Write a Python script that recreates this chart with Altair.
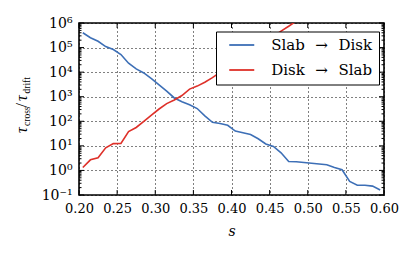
import altair as alt
import pandas as pd

# ---- data ----
s_values = [0.205, 0.215, 0.225, 0.235, 0.245, 0.255, 0.265, 0.275, 0.285, 0.295,
            0.305, 0.315, 0.325, 0.335, 0.345, 0.355, 0.365, 0.375, 0.385, 0.395,
            0.405, 0.415, 0.425, 0.435, 0.445, 0.455, 0.465, 0.475, 0.485, 0.495,
            0.505, 0.515, 0.525, 0.535, 0.545, 0.555, 0.565, 0.575, 0.585, 0.595]

slab_to_disk = [4.0e5, 2.5e5, 1.8e5, 1.1e5, 8.3e4, 5.2e4, 2.3e4, 1.35e4, 9.3e3, 5.4e3,
                3.0e3, 1.7e3, 890, 630, 470, 330, 166, 91, 81, 69,
                40, 34, 29, 19.5, 12, 9.5, 5.2, 2.3, 2.24, 2.1,
                1.95, 1.82, 1.7, 1.32, 1.07, 0.355, 0.25, 0.25, 0.23, 0.16]

disk_to_slab = [1.32, 2.7, 3.3, 8.3, 12.3, 12.6, 38, 56, 100, 178,
                316, 525, 740, 1120, 2040, 2700, 3900, 6000, 9800, 1.6e4,
                2.6e4, 4.2e4, 6.8e4, 1.1e5, 1.8e5, 2.9e5, 4.7e5, 7.4e5, 1.2e6, 2.0e6]

series_names = ["Slab\u2002\u2009\u2192\u2002\u2009Disk", "Disk\u2002\u2009\u2192\u2002\u2009Slab"]
series_colors = ["#3d6fb6", "#de3029"]

x_ticks = [0.20, 0.25, 0.30, 0.35, 0.40, 0.45, 0.50, 0.55, 0.60]
y_major = [0.1, 1, 10, 100, 1e3, 1e4, 1e5, 1e6]
minor_mult = [2, 3, 4, 5, 6, 7, 8, 9]
y_minor = [m * d for d in y_major[:-1] for m in minor_mult]

rows = []
for s, v in zip(s_values, slab_to_disk):
    rows.append({"s": s, "tau": v, "series": series_names[0]})
for s, v in zip(s_values, disk_to_slab):
    rows.append({"s": s, "tau": v, "series": series_names[1]})
df = pd.DataFrame(rows)

W, H = 305, 172
FONT = "DejaVu Serif"
SUBFONT = "Liberation Serif"

xscale = alt.Scale(domain=[0.2, 0.6], nice=False, zero=False)
yscale = alt.Scale(type="log", domain=[0.1, 1e6], nice=False)

sup = "['\u207b\u00b9','\u2070','\u00b9','\u00b2','\u00b3','\u2074','\u2075','\u2076']"
label_expr = "'10' + " + sup + "[round(log(datum.value)/LN10)+1]"

x_axis = alt.Axis(values=x_ticks, format=".2f", title="s", grid=True,
                  ticks=False, domain=False, labelPadding=7,
                  titlePadding=9, titleFontStyle="italic",
                  titleFontWeight="normal", titleFontSize=14,
                  labelFontSize=13, labelFlush=False,
                  labelFont=FONT, titleFont=FONT,
                  gridDash=[1, 3], gridColor="black", gridOpacity=1,
                  gridWidth=1)
y_axis = alt.Axis(values=y_major, labelExpr=label_expr, title=None,
                  grid=True, ticks=False, domain=False, labelPadding=7,
                  labelFontSize=14, labelFlush=False, labelFont=FONT,
                  gridDash=[1, 3], gridColor="black", gridOpacity=1,
                  gridWidth=1)

lines = alt.Chart(df).mark_line(strokeWidth=1.6, clip=True).encode(
    x=alt.X("s:Q", scale=xscale, axis=x_axis),
    y=alt.Y("tau:Q", scale=yscale, axis=y_axis),
    color=alt.Color("series:N",
                    scale=alt.Scale(domain=series_names, range=series_colors),
                    legend=alt.Legend(title=None, orient="none", legendX=137,
                                      legendY=8.5, fillColor="white",
                                      strokeColor="black", padding=6,
                                      symbolType="M-2,0L2,0", symbolSize=156.25,
                                      symbolStrokeWidth=1.8, symbolOffset=12.25,
                                      labelOffset=22, labelFontSize=15,
                                      labelFont=FONT, rowPadding=9,
                                      cornerRadius=0)),
)

def ytick(vals, x0, x1):
    return alt.Chart(pd.DataFrame({"tau": vals})).mark_rule(
        color="black", strokeWidth=1).encode(
        y=alt.Y("tau:Q", scale=yscale, axis=y_axis),
        x=alt.value(x0), x2=alt.value(x1))

def xtick(vals, y0, y1):
    return alt.Chart(pd.DataFrame({"s": vals})).mark_rule(
        color="black", strokeWidth=1).encode(
        x=alt.X("s:Q", scale=xscale, axis=x_axis),
        y=alt.value(y0), y2=alt.value(y1))

ticks = [
    ytick(y_major, 0, 5), ytick(y_major, W - 5, W),
    ytick(y_minor, 0, 2.5), ytick(y_minor, W - 2.5, W),
    xtick(x_ticks, H - 5, H), xtick(x_ticks, 0, 5),
]

def piece(txt, x, y, size, italic=False):
    return alt.Chart(pd.DataFrame({"t": [txt]})).mark_text(
        angle=270, align="left", baseline="alphabetic", font=SUBFONT,
        fontSize=size, fontStyle="italic" if italic else "normal",
        color="black").encode(text="t:N", x=alt.value(x), y=alt.value(y))

title_parts = [
    piece("\u03c4", -52, 110, 16, True),
    piece("cross", -49, 103, 9.5),
    piece("/", -52, 84.5, 16),
    piece("\u03c4", -52, 78, 16, True),
    piece("drift", -49, 70.5, 9.5),
]

chart = alt.layer(lines, *ticks, *title_parts).properties(
    width=W, height=H,
    autosize=alt.AutoSizeParams(type="none"),
    padding={"left": 71, "top": 15, "right": 20, "bottom": 55},
).configure(
    font=FONT
).configure_view(
    stroke="black", strokeWidth=1.6
).configure_axis(
    labelFont=FONT, titleFont=FONT, labelColor="black", titleColor="black"
)

chart.save("out.html", embed_options={"renderer": "svg", "actions": False})
